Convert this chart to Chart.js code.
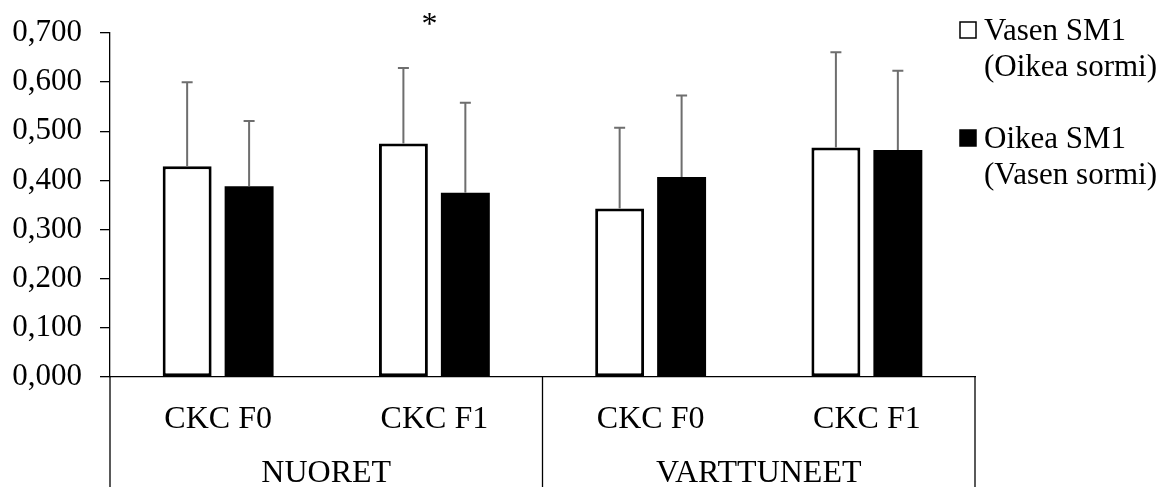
<!DOCTYPE html>
<html>
<head>
<meta charset="utf-8">
<script src="https://cdn.jsdelivr.net/npm/chart.js@4/dist/chart.umd.min.js"></script>
<style>
  html, body { margin: 0; padding: 0; background: #fff; }
  canvas { display: block; }
</style>
</head>
<body>
<canvas id="myChart" width="1174" height="487"></canvas>
<script>
const categories = ['CKC F0', 'CKC F1', 'CKC F0', 'CKC F1'];
const groups = ['NUORET', 'VARTTUNEET'];
const groupSizes = [2, 2];
const vasenLabel = ['Vasen SM1', '(Oikea sormi)'];
const oikeaLabel = ['Oikea SM1', '(Vasen sormi)'];
const vasenValues = [0.429, 0.475, 0.343, 0.467];
const vasenErrors = [0.171, 0.154, 0.164, 0.194];
const oikeaValues = [0.388, 0.375, 0.407, 0.462];
const oikeaErrors = [0.133, 0.183, 0.166, 0.161];
const marks = ['', '*', '', ''];
const yMax = 0.7;
const yStep = 0.1;

const serif = "'Liberation Serif', 'Times New Roman', serif";
Chart.defaults.font.family = serif;
Chart.defaults.color = '#000';

// error bars, only the upper half like in the original
const errorBars = {
    id: 'errorBars',
    afterDatasetsDraw(chart) {
        const ctx = chart.ctx;
        const y = chart.scales.y;
        ctx.save();
        ctx.strokeStyle = '#6e6e6e';
        ctx.lineWidth = 2;
        chart.data.datasets.forEach((ds, d) => {
            const meta = chart.getDatasetMeta(d);
            meta.data.forEach((bar, i) => {
                const top = y.getPixelForValue(ds.data[i] + ds.errors[i]);
                ctx.beginPath();
                ctx.moveTo(bar.x, bar.y);
                ctx.lineTo(bar.x, top);
                ctx.moveTo(bar.x - 5.5, top);
                ctx.lineTo(bar.x + 5.5, top);
                ctx.stroke();
            });
        });
        ctx.restore();
    }
};

// group labels under the categories, separators, asterisk and legend
const extras = {
    id: 'extras',
    afterDraw(chart) {
        const ctx = chart.ctx;
        const x = chart.scales.x;
        const area = chart.chartArea;
        const h = chart.height;
        ctx.save();

        // separators
        let bounds = [x.left];
        let idx = 0;
        groupSizes.forEach(n => {
            idx += n;
            if (idx < categories.length) {
                bounds.push((x.getPixelForValue(idx - 1) + x.getPixelForValue(idx)) / 2);
            } else {
                bounds.push(x.right);
            }
        });
        ctx.strokeStyle = '#000';
        ctx.lineWidth = 1.3;
        bounds.forEach(b => {
            ctx.beginPath();
            ctx.moveTo(b, area.bottom);
            ctx.lineTo(b, h);
            ctx.stroke();
        });

        ctx.fillStyle = '#000';
        ctx.font = '32px ' + serif;
        ctx.textAlign = 'center';
        ctx.textBaseline = 'alphabetic';
        groups.forEach((g, i) => {
            ctx.fillText(g, (bounds[i] + bounds[i + 1]) / 2, 482);
        });

        // significance marks
        ctx.font = '32px ' + serif;
        marks.forEach((m, i) => {
            if (m) ctx.fillText(m, x.getPixelForValue(i) - 5, 34);
        });

        // legend
        const items = [
            { text: vasenLabel, fill: '#fff', top: 22 },
            { text: oikeaLabel, fill: '#000', top: 130 }
        ];
        ctx.font = '31px ' + serif;
        ctx.textAlign = 'left';
        items.forEach(it => {
            ctx.fillStyle = it.fill;
            ctx.fillRect(960, it.top, 16, 16);
            ctx.strokeStyle = '#000';
            ctx.lineWidth = 1.5;
            ctx.strokeRect(960, it.top, 16, 16);
            ctx.fillStyle = '#000';
            ctx.fillText(it.text[0], 984, it.top + 18);
            ctx.fillText(it.text[1], 984, it.top + 54);
        });
        ctx.restore();
    }
};

new Chart(document.getElementById('myChart'), {
    type: 'bar',
    data: {
        labels: categories,
        datasets: [{
            label: vasenLabel.join(' '),
            data: vasenValues,
            errors: vasenErrors,
            backgroundColor: '#fff',
            borderColor: '#000',
            borderWidth: 3,
            borderSkipped: false
        }, {
            label: oikeaLabel.join(' '),
            data: oikeaValues,
            errors: oikeaErrors,
            backgroundColor: '#000',
            borderColor: '#000',
            borderWidth: 0
        }]
    },
    options: {
        responsive: false,
        animation: false,
        devicePixelRatio: 1,
        categoryPercentage: 0.573,
        barPercentage: 0.79,
        layout: {
            padding: { top: 33, right: 199, left: 0, bottom: 0 }
        },
        scales: {
            x: {
                grid: { display: false },
                border: { display: true, color: '#000', width: 1.3 },
                ticks: {
                    font: { size: 32 },
                    color: '#000',
                    padding: 15,
                    maxRotation: 0
                },
                afterFit(scale) {
                    scale.height = 110;
                    scale.paddingLeft = 0;
                    scale.paddingRight = 0;
                }
            },
            y: {
                min: 0,
                max: yMax,
                grid: {
                    drawOnChartArea: false,
                    drawTicks: true,
                    tickLength: 10,
                    color: '#000',
                    lineWidth: 1.3
                },
                border: { display: true, color: '#000', width: 1.3 },
                ticks: {
                    stepSize: yStep,
                    padding: 18,
                    font: { size: 31 },
                    color: '#000',
                    callback: v => v.toFixed(3).replace('.', ',')
                },
                afterFit(scale) {
                    scale.width = 110;
                    scale.paddingTop = 0;
                    scale.paddingBottom = 0;
                }
            }
        },
        plugins: {
            legend: { display: false },
            tooltip: { enabled: false }
        }
    },
    plugins: [errorBars, extras]
});
</script>
</body>
</html>
